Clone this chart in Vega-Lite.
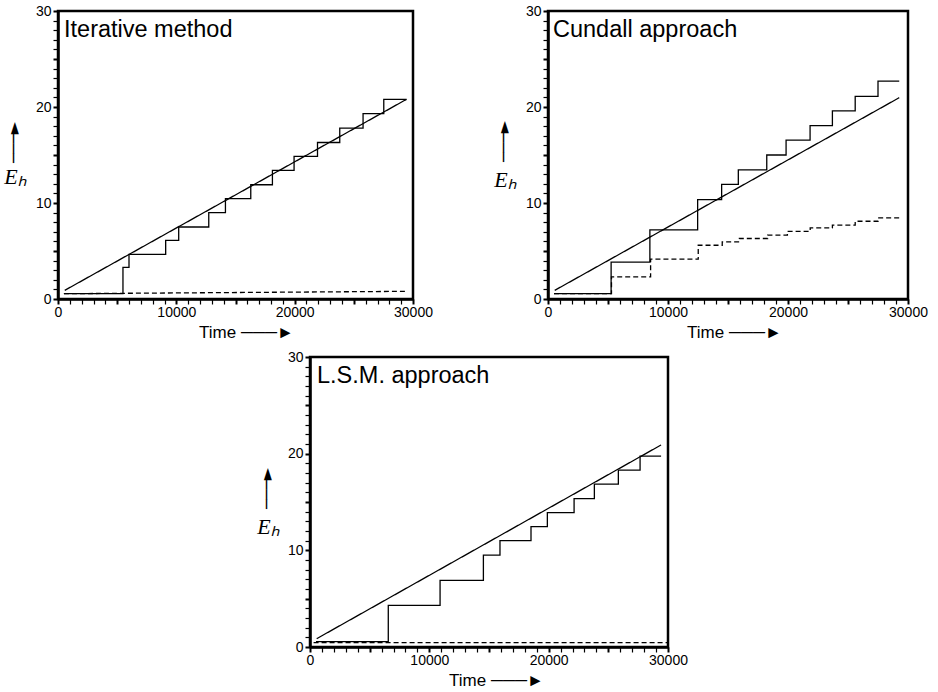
{
  "$schema": "https://vega.github.io/schema/vega-lite/v6.json",
  "padding": {"left": 2, "top": 2, "right": 5, "bottom": 5},
  "background": "white",
  "config": {
    "view": {"stroke": "black", "strokeWidth": 2.5},
    "axis": {"grid": false, "domainColor": "black", "domainWidth": 2.5, "tickColor": "black", "labelColor": "black", "titleColor": "black", "labelFont": "Liberation Sans", "labelFontSize": 14, "titleFont": "Liberation Sans", "labelOverlap": false},
    "title": {"font": "Liberation Sans", "fontSize": 23.5, "fontWeight": "normal", "color": "black"}
  },
  "datasets": {
    "d": [
      {"p": "it", "s": "it_lin", "k": "lin", "d": "solid", "t": 570, "e": 0.9},
      {"p": "it", "s": "it_lin", "k": "lin", "d": "solid", "t": 29450, "e": 20.8},
      {"p": "it", "s": "it_dash", "k": "lin", "d": "dashed", "t": 500, "e": 0.55},
      {"p": "it", "s": "it_dash", "k": "lin", "d": "dashed", "t": 29500, "e": 0.8},
      {"p": "it", "s": "it_step", "k": "step", "d": "solid", "t": 500, "e": 0.55},
      {"p": "it", "s": "it_step", "k": "step", "d": "solid", "t": 5490, "e": 3.3},
      {"p": "it", "s": "it_step", "k": "step", "d": "solid", "t": 6000, "e": 4.65},
      {"p": "it", "s": "it_step", "k": "step", "d": "solid", "t": 9100, "e": 6.1},
      {"p": "it", "s": "it_step", "k": "step", "d": "solid", "t": 10200, "e": 7.5},
      {"p": "it", "s": "it_step", "k": "step", "d": "solid", "t": 12740, "e": 9.0},
      {"p": "it", "s": "it_step", "k": "step", "d": "solid", "t": 14150, "e": 10.45},
      {"p": "it", "s": "it_step", "k": "step", "d": "solid", "t": 16290, "e": 11.9},
      {"p": "it", "s": "it_step", "k": "step", "d": "solid", "t": 18120, "e": 13.4},
      {"p": "it", "s": "it_step", "k": "step", "d": "solid", "t": 19950, "e": 14.85},
      {"p": "it", "s": "it_step", "k": "step", "d": "solid", "t": 21930, "e": 16.3},
      {"p": "it", "s": "it_step", "k": "step", "d": "solid", "t": 23810, "e": 17.8},
      {"p": "it", "s": "it_step", "k": "step", "d": "solid", "t": 25780, "e": 19.3},
      {"p": "it", "s": "it_step", "k": "step", "d": "solid", "t": 27530, "e": 20.8},
      {"p": "it", "s": "it_step", "k": "step", "d": "solid", "t": 29450, "e": 20.8},
      {"p": "cu", "s": "cu_lin", "k": "lin", "d": "solid", "t": 560, "e": 0.9},
      {"p": "cu", "s": "cu_lin", "k": "lin", "d": "solid", "t": 29270, "e": 20.97},
      {"p": "cu", "s": "cu_step", "k": "step", "d": "solid", "t": 500, "e": 0.55},
      {"p": "cu", "s": "cu_step", "k": "step", "d": "solid", "t": 5260, "e": 3.85},
      {"p": "cu", "s": "cu_step", "k": "step", "d": "solid", "t": 8490, "e": 7.2},
      {"p": "cu", "s": "cu_step", "k": "step", "d": "solid", "t": 12470, "e": 10.35},
      {"p": "cu", "s": "cu_step", "k": "step", "d": "solid", "t": 14470, "e": 11.95},
      {"p": "cu", "s": "cu_step", "k": "step", "d": "solid", "t": 15860, "e": 13.45},
      {"p": "cu", "s": "cu_step", "k": "step", "d": "solid", "t": 18230, "e": 15.0},
      {"p": "cu", "s": "cu_step", "k": "step", "d": "solid", "t": 19840, "e": 16.55},
      {"p": "cu", "s": "cu_step", "k": "step", "d": "solid", "t": 21840, "e": 18.05},
      {"p": "cu", "s": "cu_step", "k": "step", "d": "solid", "t": 23700, "e": 19.6},
      {"p": "cu", "s": "cu_step", "k": "step", "d": "solid", "t": 25600, "e": 21.1},
      {"p": "cu", "s": "cu_step", "k": "step", "d": "solid", "t": 27500, "e": 22.7},
      {"p": "cu", "s": "cu_step", "k": "step", "d": "solid", "t": 29270, "e": 22.7},
      {"p": "cu", "s": "cu_dash", "k": "step", "d": "dashed", "t": 500, "e": 0.55},
      {"p": "cu", "s": "cu_dash", "k": "step", "d": "dashed", "t": 5290, "e": 2.3},
      {"p": "cu", "s": "cu_dash", "k": "step", "d": "dashed", "t": 8550, "e": 4.15},
      {"p": "cu", "s": "cu_dash", "k": "step", "d": "dashed", "t": 12520, "e": 5.6},
      {"p": "cu", "s": "cu_dash", "k": "step", "d": "dashed", "t": 14520, "e": 5.95},
      {"p": "cu", "s": "cu_dash", "k": "step", "d": "dashed", "t": 15950, "e": 6.3},
      {"p": "cu", "s": "cu_dash", "k": "step", "d": "dashed", "t": 18300, "e": 6.65},
      {"p": "cu", "s": "cu_dash", "k": "step", "d": "dashed", "t": 19950, "e": 7.05},
      {"p": "cu", "s": "cu_dash", "k": "step", "d": "dashed", "t": 21850, "e": 7.4},
      {"p": "cu", "s": "cu_dash", "k": "step", "d": "dashed", "t": 23700, "e": 7.7},
      {"p": "cu", "s": "cu_dash", "k": "step", "d": "dashed", "t": 25600, "e": 8.1},
      {"p": "cu", "s": "cu_dash", "k": "step", "d": "dashed", "t": 27500, "e": 8.45},
      {"p": "cu", "s": "cu_dash", "k": "step", "d": "dashed", "t": 29400, "e": 8.45},
      {"p": "lsm", "s": "lsm_lin", "k": "lin", "d": "solid", "t": 560, "e": 0.86},
      {"p": "lsm", "s": "lsm_lin", "k": "lin", "d": "solid", "t": 29420, "e": 20.9},
      {"p": "lsm", "s": "lsm_dash", "k": "lin", "d": "dashed", "t": 300, "e": 0.45},
      {"p": "lsm", "s": "lsm_dash", "k": "lin", "d": "dashed", "t": 30000, "e": 0.45},
      {"p": "lsm", "s": "lsm_step", "k": "step", "d": "solid", "t": 500, "e": 0.55},
      {"p": "lsm", "s": "lsm_step", "k": "step", "d": "solid", "t": 6560, "e": 4.3},
      {"p": "lsm", "s": "lsm_step", "k": "step", "d": "solid", "t": 10900, "e": 6.9},
      {"p": "lsm", "s": "lsm_step", "k": "step", "d": "solid", "t": 14530, "e": 9.5},
      {"p": "lsm", "s": "lsm_step", "k": "step", "d": "solid", "t": 15920, "e": 11.0},
      {"p": "lsm", "s": "lsm_step", "k": "step", "d": "solid", "t": 18520, "e": 12.45},
      {"p": "lsm", "s": "lsm_step", "k": "step", "d": "solid", "t": 19890, "e": 13.9},
      {"p": "lsm", "s": "lsm_step", "k": "step", "d": "solid", "t": 22130, "e": 15.35},
      {"p": "lsm", "s": "lsm_step", "k": "step", "d": "solid", "t": 23830, "e": 16.85},
      {"p": "lsm", "s": "lsm_step", "k": "step", "d": "solid", "t": 25840, "e": 18.3},
      {"p": "lsm", "s": "lsm_step", "k": "step", "d": "solid", "t": 27660, "e": 19.75},
      {"p": "lsm", "s": "lsm_step", "k": "step", "d": "solid", "t": 29420, "e": 19.75}
    ]
  },
  "spacing": 6,
  "vconcat": [
    {
      "bounds": "flush",
      "spacing": 135,
      "hconcat": [
        {
          "width": 355, "height": 288,
          "data": {"name": "d"},
          "transform": [{"filter": "datum.p === 'it'"}],
          "title": {"text": "Iterative method", "anchor": "start", "frame": "group", "baseline": "top", "offset": -37, "dx": 6},
          "resolve": {"axis": {"y": "independent"}},
          "encoding": {
            "x": {"field": "t", "type": "quantitative", "scale": {"domain": [0, 30000], "nice": false}, "axis": {"values": [0,1000,2000,3000,4000,5000,6000,7000,8000,9000,10000,11000,12000,13000,14000,15000,16000,17000,18000,19000,20000,21000,22000,23000,24000,25000,26000,27000,28000,29000,30000], "format": "d", "labelOverlap": false, "labelExpr": "datum.value % 10000 === 0 ? datum.label : ''", "tickSize": 5, "tickWidth": {"condition": {"test": "datum.value % 5000 === 0", "value": 2}, "value": 1.2}, "labelPadding": 1, "labelFlush": false, "title": "Time ───►", "titleFontSize": 17, "titleFontWeight": "normal", "titleX": 188, "titleAlign": "center", "titleY": 33, "titleBaseline": "middle"}},
            "strokeDash": {"field": "d", "type": "nominal", "scale": {"domain": ["solid", "dashed"], "range": [[1, 0], [5, 3]]}, "legend": null},
            "detail": {"field": "s"}
          },
          "layer": [
            {
              "transform": [{"filter": "datum.k === 'lin'"}],
              "mark": {"type": "line", "interpolate": "linear", "color": "black", "strokeWidth": 1.3},
              "encoding": {
                "y": {"field": "e", "type": "quantitative", "scale": {"domain": [0, 30], "nice": false}, "axis": {"values": [0,1,2,3,4,5,6,7,8,9,10,11,12,13,14,15,16,17,18,19,20,21,22,23,24,25,26,27,28,29,30], "labelOverlap": false, "labelExpr": "datum.value % 10 === 0 ? datum.label : ''", "tickSize": 5, "tickWidth": {"condition": {"test": "datum.value % 5 === 0", "value": 2}, "value": 1.2}, "labelPadding": 2, "labelFlush": false, "title": "Eₕ", "titleAngle": 0, "titleFont": "Liberation Serif", "titleFontStyle": "italic", "titleFontWeight": "normal", "titleFontSize": 22, "titleAlign": "center", "titleBaseline": "middle", "titleX": -43, "titleY": 165}}
              }
            },
            {
              "transform": [{"filter": "datum.k === 'step'"}],
              "mark": {"type": "line", "interpolate": "step-after", "color": "black", "strokeWidth": 1.3},
              "encoding": {
                "y": {"field": "e", "type": "quantitative", "scale": {"domain": [0, 30], "nice": false}, "axis": {"orient": "left", "labels": false, "ticks": false, "domain": false, "title": "───►", "titleAngle": -90, "titleFont": "DejaVu Sans", "titleFontSize": 16, "titleAlign": "center", "titleBaseline": "middle", "titleX": -45, "titleY": 131}}
              }
            }
          ]
        },
        {
          "width": 360, "height": 288,
          "data": {"name": "d"},
          "transform": [{"filter": "datum.p === 'cu'"}],
          "title": {"text": "Cundall approach", "anchor": "start", "frame": "group", "baseline": "top", "offset": -37, "dx": 5},
          "resolve": {"axis": {"y": "independent"}},
          "encoding": {
            "x": {"field": "t", "type": "quantitative", "scale": {"domain": [0, 30000], "nice": false}, "axis": {"values": [0,1000,2000,3000,4000,5000,6000,7000,8000,9000,10000,11000,12000,13000,14000,15000,16000,17000,18000,19000,20000,21000,22000,23000,24000,25000,26000,27000,28000,29000,30000], "format": "d", "labelOverlap": false, "labelExpr": "datum.value % 10000 === 0 ? datum.label : ''", "tickSize": 5, "tickWidth": {"condition": {"test": "datum.value % 5000 === 0", "value": 2}, "value": 1.2}, "labelPadding": 1, "labelFlush": false, "title": "Time ───►", "titleFontSize": 17, "titleFontWeight": "normal", "titleX": 186, "titleAlign": "center", "titleY": 33, "titleBaseline": "middle"}},
            "strokeDash": {"field": "d", "type": "nominal", "scale": {"domain": ["solid", "dashed"], "range": [[1, 0], [5, 3]]}, "legend": null},
            "detail": {"field": "s"}
          },
          "layer": [
            {
              "transform": [{"filter": "datum.k === 'lin'"}],
              "mark": {"type": "line", "interpolate": "linear", "color": "black", "strokeWidth": 1.3},
              "encoding": {
                "y": {"field": "e", "type": "quantitative", "scale": {"domain": [0, 30], "nice": false}, "axis": {"values": [0,1,2,3,4,5,6,7,8,9,10,11,12,13,14,15,16,17,18,19,20,21,22,23,24,25,26,27,28,29,30], "labelOverlap": false, "labelExpr": "datum.value % 10 === 0 ? datum.label : ''", "tickSize": 5, "tickWidth": {"condition": {"test": "datum.value % 5 === 0", "value": 2}, "value": 1.2}, "labelPadding": 2, "labelFlush": false, "title": "Eₕ", "titleAngle": 0, "titleFont": "Liberation Serif", "titleFontStyle": "italic", "titleFontWeight": "normal", "titleFontSize": 22, "titleAlign": "center", "titleBaseline": "middle", "titleX": -43, "titleY": 168}}
              }
            },
            {
              "transform": [{"filter": "datum.k === 'step'"}],
              "mark": {"type": "line", "interpolate": "step-after", "color": "black", "strokeWidth": 1.3},
              "encoding": {
                "y": {"field": "e", "type": "quantitative", "scale": {"domain": [0, 30], "nice": false}, "axis": {"orient": "left", "labels": false, "ticks": false, "domain": false, "title": "───►", "titleAngle": -90, "titleFont": "DejaVu Sans", "titleFontSize": 16, "titleAlign": "center", "titleBaseline": "middle", "titleX": -45, "titleY": 130}}
              }
            }
          ]
        }
      ]
    },
    {
      "bounds": "flush",
      "spacing": 135,
      "hconcat": [
        {
          "width": 117, "height": 290,
          "data": {"values": []},
          "mark": {"type": "point"},
          "encoding": {},
          "view": {"stroke": null}
        },
        {
          "width": 358, "height": 290,
          "data": {"name": "d"},
          "transform": [{"filter": "datum.p === 'lsm'"}],
          "title": {"text": "L.S.M. approach", "anchor": "start", "frame": "group", "baseline": "top", "offset": -37, "dx": 7},
          "resolve": {"axis": {"y": "independent"}},
          "encoding": {
            "x": {"field": "t", "type": "quantitative", "scale": {"domain": [0, 30000], "nice": false}, "axis": {"values": [0,1000,2000,3000,4000,5000,6000,7000,8000,9000,10000,11000,12000,13000,14000,15000,16000,17000,18000,19000,20000,21000,22000,23000,24000,25000,26000,27000,28000,29000,30000], "format": "d", "labelOverlap": false, "labelExpr": "datum.value % 10000 === 0 ? datum.label : ''", "tickSize": 5, "tickWidth": {"condition": {"test": "datum.value % 5000 === 0", "value": 2}, "value": 1.2}, "labelPadding": 1, "labelFlush": false, "title": "Time ───►", "titleFontSize": 17, "titleFontWeight": "normal", "titleX": 186, "titleAlign": "center", "titleY": 33, "titleBaseline": "middle"}},
            "strokeDash": {"field": "d", "type": "nominal", "scale": {"domain": ["solid", "dashed"], "range": [[1, 0], [5, 3]]}, "legend": null},
            "detail": {"field": "s"}
          },
          "layer": [
            {
              "transform": [{"filter": "datum.k === 'lin'"}],
              "mark": {"type": "line", "interpolate": "linear", "color": "black", "strokeWidth": 1.3},
              "encoding": {
                "y": {"field": "e", "type": "quantitative", "scale": {"domain": [0, 30], "nice": false}, "axis": {"values": [0,1,2,3,4,5,6,7,8,9,10,11,12,13,14,15,16,17,18,19,20,21,22,23,24,25,26,27,28,29,30], "labelOverlap": false, "labelExpr": "datum.value % 10 === 0 ? datum.label : ''", "tickSize": 5, "tickWidth": {"condition": {"test": "datum.value % 5 === 0", "value": 2}, "value": 1.2}, "labelPadding": 2, "labelFlush": false, "title": "Eₕ", "titleAngle": 0, "titleFont": "Liberation Serif", "titleFontStyle": "italic", "titleFontWeight": "normal", "titleFontSize": 22, "titleAlign": "center", "titleBaseline": "middle", "titleX": -42, "titleY": 169}}
              }
            },
            {
              "transform": [{"filter": "datum.k === 'step'"}],
              "mark": {"type": "line", "interpolate": "step-after", "color": "black", "strokeWidth": 1.3},
              "encoding": {
                "y": {"field": "e", "type": "quantitative", "scale": {"domain": [0, 30], "nice": false}, "axis": {"orient": "left", "labels": false, "ticks": false, "domain": false, "title": "───►", "titleAngle": -90, "titleFont": "DejaVu Sans", "titleFontSize": 16, "titleAlign": "center", "titleBaseline": "middle", "titleX": -44, "titleY": 131}}
              }
            }
          ]
        }
      ]
    }
  ]
}
